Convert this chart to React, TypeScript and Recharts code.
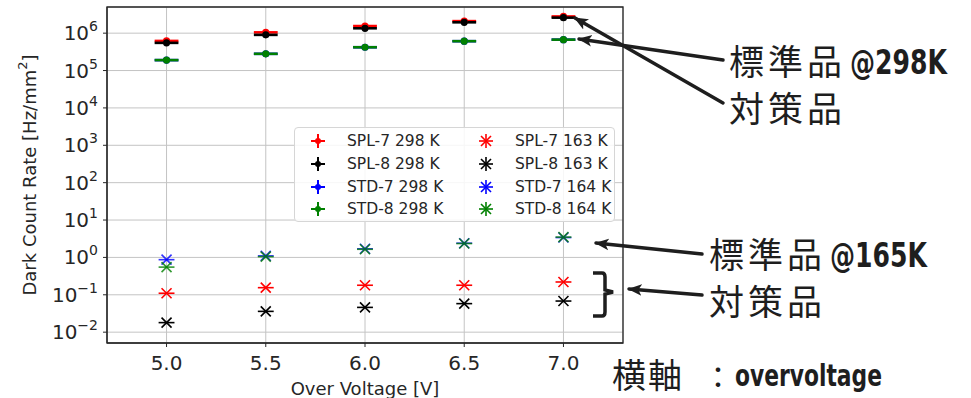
import React from 'react';
import { ComposedChart, Scatter, XAxis, YAxis, CartesianGrid, ErrorBar, ReferenceArea } from 'recharts';

// over voltage [V]
const voltages = [5.0, 5.5, 6.0, 6.5, 7.0];

// dark count rate [Hz/mm2]
const spl7_298 = [6.2e5, 1.05e6, 1.55e6, 2.1e6, 2.8e6];
const spl8_298 = [5.5e5, 9.0e5, 1.35e6, 1.95e6, 2.6e6];
const std7_298 = [1.9e5, 2.8e5, 4.2e5, 6.1e5, 6.7e5];
const std8_298 = [1.9e5, 2.8e5, 4.2e5, 6.1e5, 6.7e5];
const spl7_163 = [0.11, 0.155, 0.18, 0.18, 0.22];
const spl8_163 = [0.018, 0.036, 0.046, 0.058, 0.068];
const std7_164 = [0.87, 1.1, 1.7, 2.4, 3.4];
const std8_164 = [0.55, 1.05, 1.65, 2.35, 3.5];

// horizontal error on the voltage
const xErrWarm = [0.06, 0.06, 0.06, 0.06, 0.06];
const xErrCold = [0.04, 0.04, 0.04, 0.04, 0.04];

const xTicks = [5.0, 5.5, 6.0, 6.5, 7.0];
const yTicks = [1e-2, 1e-1, 1e0, 1e1, 1e2, 1e3, 1e4, 1e5, 1e6];
const yDomain = [Math.pow(10, -2.29), Math.pow(10, 6.7)];

const series = [
  { name: 'SPL-7 298 K', color: '#ff0000', values: spl7_298, err: xErrWarm, kind: 'dot' },
  { name: 'SPL-8 298 K', color: '#000000', values: spl8_298, err: xErrWarm, kind: 'dot' },
  { name: 'STD-7 298 K', color: '#0000ff', values: std7_298, err: xErrWarm, kind: 'dot' },
  { name: 'STD-8 298 K', color: '#008000', values: std8_298, err: xErrWarm, kind: 'dot' },
  { name: 'SPL-7 163 K', color: '#ff0000', values: spl7_163, err: xErrCold, kind: 'x' },
  { name: 'SPL-8 163 K', color: '#000000', values: spl8_163, err: xErrCold, kind: 'x' },
  { name: 'STD-7 164 K', color: '#0000ff', values: std7_164, err: xErrCold, kind: 'x' },
  { name: 'STD-8 164 K', color: '#008000', values: std8_164, err: xErrCold, kind: 'x' },
];

const FONT = '"DejaVu Sans", sans-serif';
const CJK = '"Noto Sans CJK JP", sans-serif';
const NARROW = '"DejaVu Sans Condensed", "DejaVu Sans", sans-serif';

function makeShape(kind: string, color: string, opacity: number) {
  return (props: any) => {
    const { cx, cy } = props;
    if (kind === 'dot') {
      return <circle cx={cx} cy={cy} r={3.6} fill={color} />;
    }
    const s = 5;
    return (
      <g stroke={color} strokeWidth={1.6} opacity={opacity}>
        <line x1={cx - s} y1={cy - s} x2={cx + s} y2={cy + s} />
        <line x1={cx - s} y1={cy + s} x2={cx + s} y2={cy - s} />
      </g>
    );
  };
}

function YTick(props: any) {
  const { x, y, payload } = props;
  const exp = Math.round(Math.log10(payload.value));
  const expText = exp < 0 ? '\u2212' + Math.abs(exp) : String(exp);
  return (
    <text x={x - 1} y={y} dy={7} textAnchor="end" fontSize={20} fill="#262626" fontFamily={FONT}>
      10<tspan dy={-9} fontSize={14}>{expText}</tspan>
    </text>
  );
}

function LegendMark({ kind, color }: { kind: string; color: string }) {
  return (
    <svg width={22} height={18} style={{ display: 'block' }}>
      {kind === 'dot' ? (
        <g stroke={color} strokeWidth={2}>
          <line x1={4} y1={9} x2={18} y2={9} />
          <line x1={11} y1={2} x2={11} y2={16} />
          <circle cx={11} cy={9} r={3} fill={color} stroke="none" />
        </g>
      ) : (
        <g stroke={color} strokeWidth={1.6}>
          <line x1={4} y1={9} x2={18} y2={9} />
          <line x1={11} y1={2} x2={11} y2={16} />
          <line x1={6} y1={4} x2={16} y2={14} />
          <line x1={6} y1={14} x2={16} y2={4} />
        </g>
      )}
    </svg>
  );
}

function LegendBox() {
  const cols = [series.slice(0, 4), series.slice(4)];
  return (
    <div
      style={{
        position: 'absolute', left: 294, top: 127, width: 321, height: 95,
        background: 'rgba(255,255,255,0.85)', border: '1px solid #d6d6d6', borderRadius: 4,
        boxSizing: 'border-box', fontFamily: FONT, fontSize: 15.5, color: '#262626',
      }}
    >
      {cols.map((col, ci) => (
        <div key={ci} style={{ position: 'absolute', left: ci === 0 ? 12 : 180, top: 2 }}>
          {col.map(s => (
            <div key={s.name} style={{ display: 'flex', alignItems: 'center', height: 22.7 }}>
              <LegendMark kind={s.kind} color={s.color} />
              <span style={{ marginLeft: 18, whiteSpace: 'nowrap' }}>{s.name}</span>
            </div>
          ))}
        </div>
      ))}
    </div>
  );
}

function Annotations() {
  const ink = '#1e1e1e';
  return (
    <svg width={971} height={398} style={{ position: 'absolute', left: 0, top: 0, pointerEvents: 'none' }}>
      <defs>
        <marker id="head" viewBox="0 0 12 10" refX={11} refY={5} markerWidth={4} markerHeight={4} orient="auto-start-reverse" markerUnits="strokeWidth">
          <path d="M0,0 L12,5 L0,10 L3,5 z" fill={ink} />
        </marker>
      </defs>
      <g stroke={ink} strokeWidth={3.5} fill="none" strokeLinecap="round">
        <line x1={723} y1={60} x2={579} y2={39} markerEnd="url(#head)" />
        <line x1={723} y1={103} x2={575} y2={18} markerEnd="url(#head)" />
        <line x1={702} y1={254} x2={596} y2={243} markerEnd="url(#head)" />
        <line x1={702} y1={295} x2={629} y2={289} markerEnd="url(#head)" />
        <path d="M593,273 L602,273 Q605,273 605,277 L605,290 L613,292 L605,294 L605,312 Q605,316 602,316 L593,316" strokeLinecap="butt" />
      </g>
      <g fill={ink}>
        <text x={729} y={75} fontFamily={CJK} fontSize={35} letterSpacing={4}>標準品</text>
        <text x={850} y={74} fontFamily={NARROW} fontWeight="bold" fontSize={33} textLength={97} lengthAdjust="spacingAndGlyphs">@298K</text>
        <text x={729} y={122} fontFamily={CJK} fontSize={35} letterSpacing={4}>対策品</text>
        <text x={709} y={268} fontFamily={CJK} fontSize={35} letterSpacing={4}>標準品</text>
        <text x={830} y={267} fontFamily={NARROW} fontWeight="bold" fontSize={33} textLength={97} lengthAdjust="spacingAndGlyphs">@165K</text>
        <text x={709} y={315} fontFamily={CJK} fontSize={35} letterSpacing={4}>対策品</text>
        <text x={612} y={388} fontFamily={CJK} fontSize={34} letterSpacing={2}>横軸</text>
        <text x={703} y={388} fontFamily={CJK} fontSize={30}>：</text>
        <text x={735} y={386} fontFamily={NARROW} fontWeight="bold" fontSize={31} textLength={147} lengthAdjust="spacingAndGlyphs">overvoltage</text>
      </g>
    </svg>
  );
}

export default function App() {
  return (
    <div style={{ position: 'relative', width: 971, height: 398, background: '#fff', overflow: 'hidden' }}>
      <style>{'body{margin:0}'}</style>
      <ComposedChart width={971} height={398} margin={{ top: 7, right: 348, bottom: 0, left: 0 }}>
        <CartesianGrid stroke="#c4c4c4" strokeWidth={1} />
        <XAxis
          type="number" dataKey="x" domain={[4.7, 7.3]} ticks={xTicks} allowDataOverflow
          tickFormatter={(v: number) => v.toFixed(1)} height={55}
          tick={{ fontSize: 20, fill: '#262626', fontFamily: FONT }} tickSize={4} tickMargin={9}
          stroke="#262626"
          label={{ value: 'Over Voltage [V]', position: 'insideBottom', offset: 3, fontSize: 18, fill: '#262626', fontFamily: FONT }}
        />
        <YAxis
          type="number" dataKey="y" scale="log" domain={yDomain} ticks={yTicks} allowDataOverflow
          width={107} tick={<YTick />} tickSize={4} tickMargin={4} stroke="#262626"
        />
        <ReferenceArea x1={4.7} x2={7.3} y1={yDomain[0]} y2={yDomain[1]} fill="none" stroke="#262626" strokeWidth={1.3} fillOpacity={0} />
        {series.map(s => {
          const data = voltages.map((v, i) => ({ x: v, y: s.values[i], xe: s.err[i] }));
          const op = s.name.startsWith('STD') && s.kind === 'x' ? 0.8 : 1;
          return (
            <Scatter
              key={s.name} name={s.name} data={data} fill={s.color}
              shape={makeShape(s.kind, s.color, op)} isAnimationActive={false}
            >
              <ErrorBar dataKey="xe" direction="x" width={0} stroke={s.color}
                strokeWidth={s.kind === 'dot' ? 2.6 : 1.6} strokeOpacity={op} />
            </Scatter>
          );
        })}
      </ComposedChart>
      <LegendBox />
      <Annotations />
      <svg width={60} height={350} style={{ position: 'absolute', left: 0, top: 0 }}>
        <text
          x={0} y={0} transform="translate(29,175) rotate(-90)" textAnchor="middle" dominantBaseline="central"
          fontSize={18} fill="#262626" fontFamily={FONT}
        >
          Dark Count Rate [Hz/mm<tspan dy={-7} fontSize={13}>2</tspan><tspan dy={7}>]</tspan>
        </text>
      </svg>
    </div>
  );
}
